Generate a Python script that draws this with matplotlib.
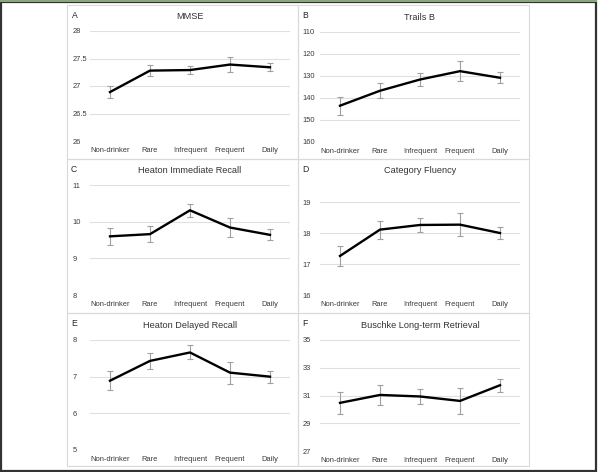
import matplotlib
matplotlib.use("Agg")
import matplotlib.pyplot as plt
from matplotlib.patches import Rectangle

plt.rcParams['font.family'] = ['Liberation Sans', 'DejaVu Sans']

categories = ["Non-drinker", "Rare", "Infrequent", "Frequent", "Daily"]

mmse = [26.89, 27.28, 27.29, 27.39, 27.34]
mmse_err = [0.11, 0.10, 0.08, 0.13, 0.07]
mmse_ticks = [26, 26.5, 27, 27.5, 28]
mmse_ticklabels = ["26", "26.5", "27", "27.5", "28"]

trails = [143.5, 136.7, 131.6, 127.8, 130.8]
trails_err = [4.0, 3.4, 2.9, 4.5, 2.5]
trails_ticks = [110, 120, 130, 140, 150, 160]

imm = [9.60, 9.66, 10.31, 9.84, 9.64]
imm_err = [0.23, 0.21, 0.17, 0.27, 0.15]
imm_ticks = [8, 9, 10, 11]

flu = [17.26, 18.11, 18.26, 18.27, 18.00]
flu_err = [0.32, 0.29, 0.23, 0.38, 0.20]
flu_ticks = [16, 17, 18, 19]

dly = [6.89, 7.43, 7.66, 7.11, 7.00]
dly_err = [0.26, 0.22, 0.19, 0.30, 0.16]
dly_ticks = [5, 6, 7, 8]

bus = [30.47, 31.04, 30.93, 30.61, 31.74]
bus_err = [0.80, 0.70, 0.56, 0.95, 0.48]
bus_ticks = [27, 29, 31, 33, 35]

W, H = 600, 472
fig = plt.figure(figsize=(W / 100, H / 100), dpi=100)


def frac(x, y, w, h):
    return [x / W, 1 - (y + h) / H, w / W, h / H]


# outer frame and panel borders
fig.patches.append(Rectangle((1 / W, 1 / H), 595 / W, 469 / H, transform=fig.transFigure,
                             fill=False, edgecolor='#333333', lw=1.6))
fig.patches.append(Rectangle((0, 1 - 2 / H), 597 / W, 2 / H, transform=fig.transFigure,
                             facecolor='#8aa77c', edgecolor='none'))
for (px, py, pw, ph) in [(67, 5, 231, 154), (298, 5, 231, 154),
                          (67, 159, 231, 154), (298, 159, 231, 154),
                          (67, 313, 231, 153), (298, 313, 231, 153)]:
    fig.patches.append(Rectangle((px / W, 1 - (py + ph) / H), pw / W, ph / H,
                                 transform=fig.transFigure, fill=False,
                                 edgecolor='#d9d9d9', lw=0.8))

panels = [
    dict(letter="A", title="MMSE", vals=mmse, err=mmse_err, ticks=mmse_ticks,
         labels=mmse_ticklabels, ylim=(26, 28), invert=False, pos=(90, 31, 200, 110)),
    dict(letter="B", title="Trails B", vals=trails, err=trails_err, ticks=trails_ticks,
         labels=[str(t) for t in trails_ticks], ylim=(110, 160), invert=True, pos=(320, 32, 200, 110)),
    dict(letter="C", title="Heaton Immediate Recall", vals=imm, err=imm_err, ticks=imm_ticks,
         labels=[str(t) for t in imm_ticks], ylim=(8, 11), invert=False, pos=(90, 185, 200, 110)),
    dict(letter="D", title="Category Fluency", vals=flu, err=flu_err, ticks=flu_ticks,
         labels=[str(t) for t in flu_ticks], ylim=(16, 19.55), invert=False, pos=(320, 185, 200, 110)),
    dict(letter="E", title="Heaton Delayed Recall", vals=dly, err=dly_err, ticks=dly_ticks,
         labels=[str(t) for t in dly_ticks], ylim=(5, 8), invert=False, pos=(90, 340, 200, 110)),
    dict(letter="F", title="Buschke Long-term Retrieval", vals=bus, err=bus_err, ticks=bus_ticks,
         labels=[str(t) for t in bus_ticks], ylim=(27, 35), invert=False, pos=(320, 340, 200, 111)),
]

letter_pos = {"A": (72, 15), "B": (302, 15), "C": (71, 169), "D": (302, 169),
              "E": (71, 324), "F": (302, 324)}

xs = list(range(len(categories)))
for p in panels:
    ax = fig.add_axes(frac(*p["pos"]))
    ax.set_facecolor('none')
    ax.errorbar(xs, p["vals"], yerr=p["err"], fmt='none', ecolor='#a0a0a0',
                elinewidth=0.8, capsize=2.2, capthick=0.8, zorder=2)
    ax.plot(xs, p["vals"], color='black', lw=1.7, zorder=3, solid_joinstyle='round')
    ax.set_xlim(-0.5, len(categories) - 0.5)
    ax.set_ylim(*p["ylim"])
    if p["invert"]:
        ax.invert_yaxis()
    ax.set_yticks(p["ticks"])
    ax.set_yticklabels(p["labels"])
    ax.set_xticks(xs)
    ax.set_xticklabels(categories)
    for s in ax.spines.values():
        s.set_visible(False)
    ax.grid(axis='y', color='#e0e0e0', lw=0.8)
    ax.set_axisbelow(True)
    ax.tick_params(axis='both', length=0, labelsize=5.4, labelcolor='#3a3a3a')
    ax.tick_params(axis='y', pad=12.3)
    ax.tick_params(axis='x', pad=4.2)
    for lab in ax.get_yticklabels():
        lab.set_horizontalalignment('left')
    ax.set_title(p["title"], fontsize=6.6, color='#333333', pad=8.3)
    lx, ly = letter_pos[p["letter"]]
    fig.text(lx / W, 1 - ly / H, p["letter"], fontsize=6.2, color='#262626',
             ha='left', va='center')

fig.savefig("out.png", dpi=100)
